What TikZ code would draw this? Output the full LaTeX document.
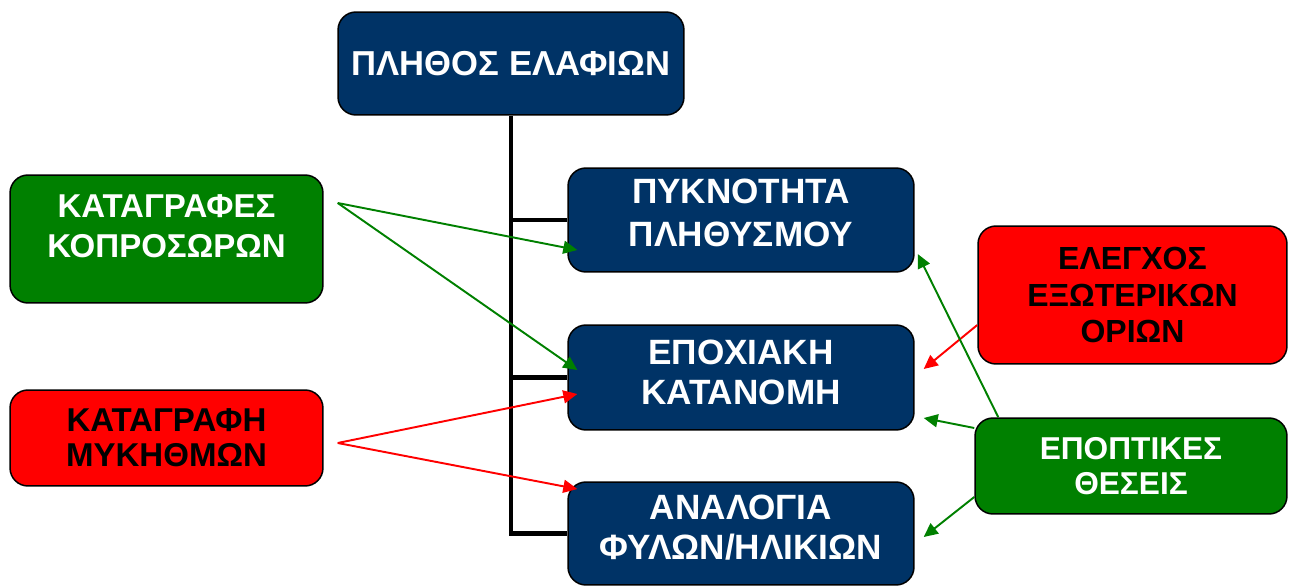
\documentclass[tikz,border=0pt]{standalone}
\usepackage{fontspec}
\setmainfont{Liberation Sans}
\usetikzlibrary{calc, arrows.meta, positioning}
\definecolor{deernavy}{RGB}{0, 51, 102}
\definecolor{leafgreen}{RGB}{0, 128, 0}
\definecolor{alertred}{RGB}{255, 0, 0}

\begin{document}
\begin{tikzpicture}[x=0.02cm, y=-0.02cm,
    font=\bfseries,
    box/.style={draw=black, line width=0.85pt, rounded corners=0.36cm, align=center, inner sep=2pt},
    navybox/.style={box, fill=deernavy, text=white, minimum width=6.92cm, font=\fontsize{20}{23}\selectfont\bfseries},
    greenbox/.style={box, fill=leafgreen, text=white},
    redbox/.style={box, fill=alertred, text=black},
    tree/.style={line width=2.6pt, color=black},
    greenarrow/.style={-{Triangle[length=0.28cm, width=0.26cm]}, line width=1.1pt, color=leafgreen},
    redarrow/.style={-{Triangle[length=0.28cm, width=0.26cm]}, line width=1.1pt, color=alertred}]
    \useasboundingbox (0, 0) rectangle (1291, 587);

    \node[navybox, minimum height=2.06cm, font=\fontsize{19.7}{23}\selectfont\bfseries] (deer) at (511, 63.5) {ΠΛΗΘΟΣ ΕΛΑΦΙΩΝ};
    \node[navybox, minimum height=2.08cm, text depth=0.3cm, font=\fontsize{20}{24.5}\selectfont\bfseries] (density) at (741, 220) {ΠΥΚΝΟΤΗΤΑ\\ΠΛΗΘΥΣΜΟΥ};
    \node[navybox, minimum height=2.10cm, text depth=0.2cm] (season) at (741, 377.5) {ΕΠΟΧΙΑΚΗ\\ΚΑΤΑΝΟΜΗ};
    \node[navybox, minimum height=2.06cm, text depth=0.24cm] (ratio) at (741, 533.5) {ΑΝΑΛΟΓΙΑ\\ΦΥΛΩΝ/ΗΛΙΚΙΩΝ};

    \draw[tree] (deer.south) -- (deer.south |- ratio.west) -- (ratio.west);
    \draw[tree] (deer.south |- density.west) -- (density.west);
    \draw[tree] (deer.south |- season.west) -- (season.west);

    \node[greenbox, minimum width=6.26cm, minimum height=2.56cm, text depth=0.5cm, font=\fontsize{18.8}{22.8}\selectfont\bfseries] (dung) at (166.5, 239) {ΚΑΤΑΓΡΑΦΕΣ\\ΚΟΠΡΟΣΩΡΩΝ};
    \node[redbox, minimum width=6.26cm, minimum height=1.92cm, font=\fontsize{18.8}{20}\selectfont\bfseries] (fungi) at (166.5, 438) {ΚΑΤΑΓΡΑΦΗ\\ΜΥΚΗΘΜΩΝ};
    \node[redbox, minimum width=6.18cm, minimum height=2.76cm, font=\fontsize{18.2}{20.5}\selectfont\bfseries] (border) at (1132.5, 295) {ΕΛΕΓΧΟΣ\\ΕΞΩΤΕΡΙΚΩΝ\\ΟΡΙΩΝ};
    \node[greenbox, minimum width=6.24cm, minimum height=1.92cm, font=\fontsize{18}{20}\selectfont\bfseries] (spots) at (1131, 466) {ΕΠΟΠΤΙΚΕΣ\\ΘΕΣΕΙΣ};

    \coordinate (dungout) at ($(dung.east)+(14, -36)$);
    \coordinate (fungiout) at ($(fungi.east)+(14, 5)$);

    \draw[greenarrow] (dungout) -- ($(density.west)+(10, 30)$);
    \draw[greenarrow] (dungout) -- ($(season.west)+(10, -7.5)$);
    \draw[redarrow] (fungiout) -- ($(season.west)+(10, 16.5)$);
    \draw[redarrow] (fungiout) -- ($(ratio.west)+(10, -44.5)$);

    \draw[redarrow] ($(border.west)+(0, 30)$) -- ($(season.east)+(9, -8.5)$);
    \draw[greenarrow] ($(spots.north west)+(24, 0)$) -- ($(density.east)+(3, 34)$);
    \draw[greenarrow] ($(spots.west)+(0, -38)$) -- ($(season.east)+(9, 40.5)$);
    \draw[greenarrow] ($(spots.west)+(0, 31)$) -- ($(ratio.east)+(9, 3.5)$);
\end{tikzpicture}
\end{document}
